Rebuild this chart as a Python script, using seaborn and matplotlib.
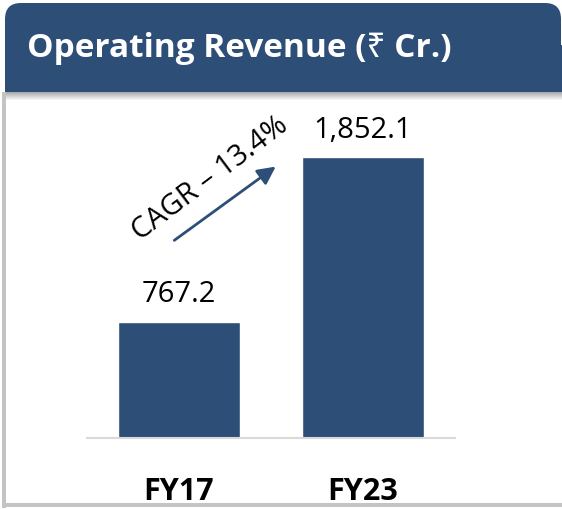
import numpy as np
import pandas as pd
import matplotlib
matplotlib.use("Agg")
import matplotlib.pyplot as plt
from matplotlib.patches import FancyBboxPatch, Rectangle
import seaborn as sns

# Data
years = ["FY17", "FY23"]
revenue = [767.2, 1852.1]
value_labels = ["767.2", "1,852.1"]
title = "Operating Revenue (\u20b9 Cr.)"
cagr_text = "CAGR \u2013 13.4%"

navy = "#2D4E76"

sns.set_theme(style="white")
plt.rcParams["font.family"] = ["Open Sans", "Noto Sans", "DejaVu Sans"]

fig = plt.figure(figsize=(5.62, 5.09), dpi=100)
fig.patch.set_facecolor("white")

# background card (pixel coords)
bg = fig.add_axes([0, 0, 1, 1], zorder=0)
bg.set_xlim(0, 562)
bg.set_ylim(509, 0)
bg.axis("off")

# card shadows
bg.add_patch(Rectangle((2, 92), 4, 416, color="#C4C4C4", lw=0))
bg.add_patch(Rectangle((2, 503), 570, 4, color="#C4C4C4", lw=0))
bg.add_patch(Rectangle((6, 92), 570, 411, color="white", lw=0))
for i, a in enumerate(np.linspace(0.55, 0.0, 9)):
    bg.add_patch(Rectangle((6, 92 + i), 570, 1, color="black", alpha=a * 0.6, lw=0))

# header band
bg.add_patch(FancyBboxPatch((5, 3), 556, 89, boxstyle="round,pad=0,rounding_size=16",
                            fc=navy, ec="none"))
bg.add_patch(Rectangle((5, 45), 570, 47, fc=navy, ec="none"))
bg.text(27, 48, title, color="white", fontsize=24, fontweight="bold",
        ha="left", va="center")

# bar chart
df = pd.DataFrame({"year": years, "revenue": revenue})
ax = fig.add_axes([87 / 562, 71 / 509, 368 / 562, 338 / 509], zorder=1)
ax.patch.set_alpha(0)
sns.barplot(data=df, x="year", y="revenue", color=navy, saturation=1,
            width=0.66, ax=ax)
ax.set_xlim(-0.5, 1.5)
ax.set_ylim(0, 2228)
ax.set_xlabel("")
ax.set_ylabel("")
ax.set_yticks([])
for s in ["top", "right", "left"]:
    ax.spines[s].set_visible(False)
ax.spines["bottom"].set_color("#D9D9D9")
ax.spines["bottom"].set_linewidth(1.5)
ax.tick_params(axis="x", length=0, pad=28)
for lbl in ax.get_xticklabels():
    lbl.set_fontsize(22)
    lbl.set_fontweight("bold")
    lbl.set_color("black")

ax.bar_label(ax.containers[0], labels=value_labels, padding=9, fontsize=21,
             color="black")

# CAGR arrow and label
ax.annotate("", xy=(0.538, 1800), xytext=(-0.038, 1292),
            arrowprops=dict(arrowstyle="-|>,head_length=0.9,head_width=0.45",
                            color=navy, lw=2))
ax.text(0.17, 1710, cagr_text, rotation=37, rotation_mode="anchor",
        ha="center", va="center", fontsize=21, color="black")

plt.savefig("out.png", dpi=100)
